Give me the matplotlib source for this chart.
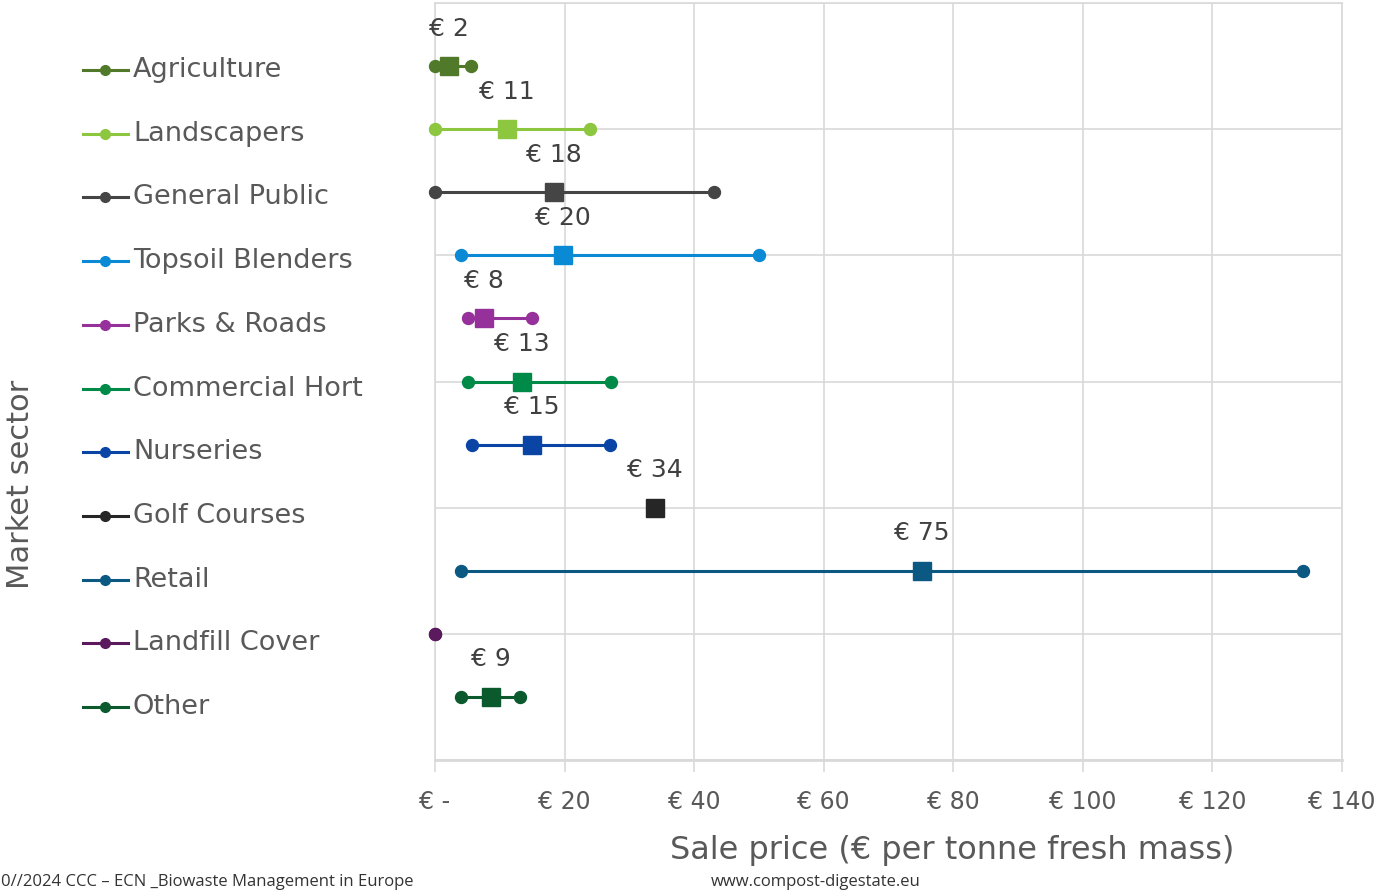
import numpy as np
import matplotlib.pyplot as plt
from matplotlib.ticker import FixedLocator, FuncFormatter

# sale price survey per market sector (EUR per tonne fresh mass)
sectors = ["Agriculture", "Landscapers", "General Public", "Topsoil Blenders",
           "Parks & Roads", "Commercial Hort", "Nurseries", "Golf Courses",
           "Retail", "Landfill Cover", "Other"]
price_min = [0, 0, 0, 4, 5.1, 5.1, 5.7, np.nan, 4, 0, 4]
price_max = [5.6, 24, 43, 50, 15, 27.2, 27, np.nan, 134, 0, 13.1]
price_avg = [2.2, 11.1, 18.3, 19.7, 7.6, 13.4, 15, 34, 75.2, np.nan, 8.6]
colors = ["#507A2A", "#8DC63F", "#454545", "#0A8AD5", "#96309A", "#008A48",
          "#0A45A6", "#262626", "#0B5883", "#5B1A5E", "#0B5A2E"]
xticks = [0, 20, 40, 60, 80, 100, 120, 140]

W, H = 1383, 892
fig = plt.figure(figsize=(W / 100, H / 100), dpi=100)
grid_c = "#D9D9D9"
text_c = "#595959"

ax = fig.add_axes([435 / W, 1 - 760 / H, (1342 - 435) / W, (760 - 3) / H])
ax.set_xlim(0, 140)
ax.set_ylim(0, 12)

rows = np.arange(len(sectors), 0, -1)  # Agriculture on top
for y, lo, hi, avg, c in zip(rows, price_min, price_max, price_avg, colors):
    if not np.isnan(lo):
        ax.plot([lo, hi], [y, y], color=c, lw=2.2, marker="o", ms=8.6,
                mec=c, solid_capstyle="butt", zorder=3, clip_on=False)
    if not np.isnan(avg):
        ax.plot([avg], [y], marker="s", ms=13.5, color=c, mec=c, zorder=4)
        ax.annotate(f"€ {avg:.0f}", (avg, y), xytext=(0, 27),
                    textcoords="offset points", ha="center", va="center",
                    fontsize=18, color="#404040")

ax.xaxis.set_major_locator(FixedLocator(xticks))
ax.xaxis.set_major_formatter(FuncFormatter(lambda v, p: "€ -" if v == 0 else f"€ {v:.0f}"))
ax.set_yticks(np.arange(0, 13, 2))
ax.tick_params(axis="y", left=False, labelleft=False)
ax.tick_params(axis="x", length=8.6, width=1.2, color=grid_c, pad=13,
               labelsize=17, labelcolor=text_c)
ax.grid(True, color=grid_c, lw=1.2, zorder=0)
ax.set_axisbelow(True)
for s in ax.spines.values():
    s.set_color(grid_c)
    s.set_linewidth(1.2)
ax.spines["bottom"].set_linewidth(2)

# sector key on the left
lax = fig.add_axes([0, 0, 1, 1])
lax.set_xlim(0, W)
lax.set_ylim(H, 0)
lax.axis("off")
for i, (name, c) in enumerate(zip(sectors, colors)):
    ky = 70 + i * 63.7
    lax.plot([83, 128], [ky, ky], color=c, lw=2.2)
    lax.plot([105], [ky], marker="o", ms=7, color=c)
    lax.text(133, ky, name, fontsize=19.5, color=text_c, va="center", ha="left")

lax.text(952, 851, "Sale price (€ per tonne fresh mass)", fontsize=23,
         color=text_c, ha="center", va="center")
lax.text(21, 484, "Market sector", fontsize=22, color=text_c, rotation=90,
         ha="center", va="center")

lax.text(1, 886, "0//2024 CCC – ECN _Biowaste Management in Europe",
         fontsize=12, family="Open Sans", color="#333333", ha="left", va="baseline")
lax.text(711, 886, "www.compost-digestate.eu", fontsize=12, family="Open Sans",
         color="#333333", ha="left", va="baseline")

fig.savefig("out.png", dpi=100)
